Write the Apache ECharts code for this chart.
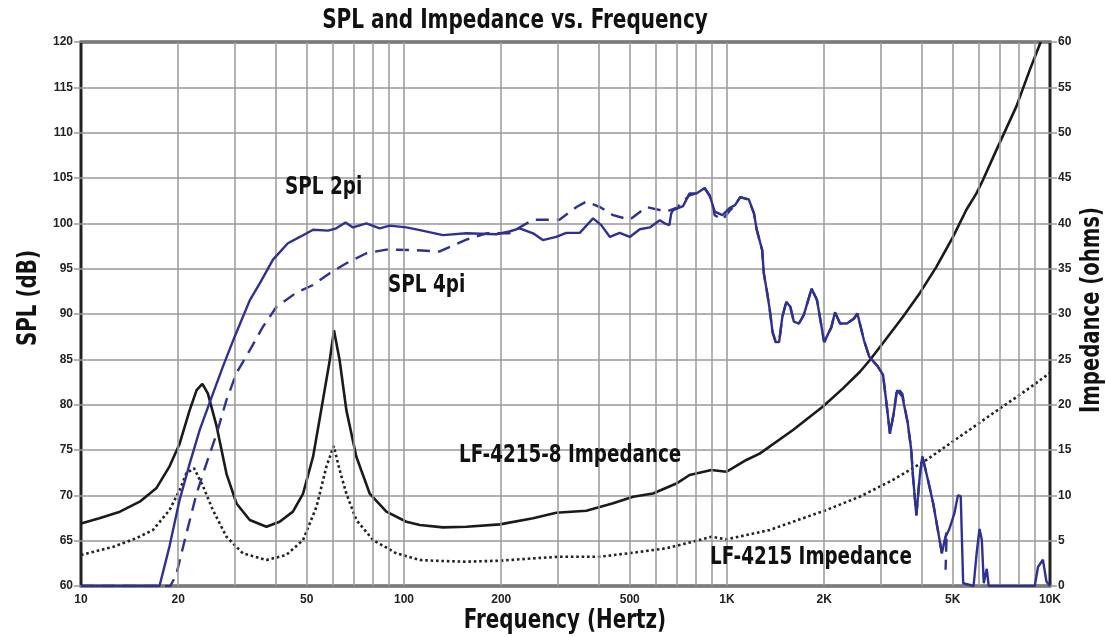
<!DOCTYPE html>
<html><head><meta charset="utf-8">
<script src="https://cdn.jsdelivr.net/npm/echarts@6/dist/echarts.min.js"></script>
<style>html,body{margin:0;padding:0;background:#fff}#c{width:1106px;height:637px}</style>
</head><body><div id="c"></div>
<script>
// ---- tick labels / grid ----
const xTickLabels = [10, 20, 50, 100, 200, 500, 1000, 2000, 5000, 10000];
const gridFreqs = [20,30,40,50,60,70,80,90,100,200,300,400,500,600,700,800,900,1000,2000,3000,4000,5000,6000,7000,8000,9000];

// ---- SPL 2pi (solid blue, dB) ----
const spl2piFreq = [10,17.5,18.8,20.2,21.7,23.3,25.0,27.5,29.9,33.3,35.8,39.3,43.7,47.6,52.3,58.2,61.7,65.9,69.5,76.5,84.1,90.3,101.7,112,132,156,193,212,228,251,269,296,318,350,385,408,434,465,500,537,577,619,641,663,672,681,731,766,804,853,884,916,968,1020,1059,1099,1168,1212,1236,1285,1300,1332,1357,1384,1415,1450,1484,1526,1570,1611,1670,1729,1828,1899,1999,2105,2159,2239,2352,2473,2534,2655,2756,2931,3041,3118,3195,3280,3363,3490,3628,3719,3766,3857,3950,4025,4190,4349,4514,4627,4748,4869,5058,5186,5292,5385,5800,5927,6050,6150,6237,6370,6462,8969,9180,9507,9750,10000];
const spl2piDb   = [60,60,64.4,69.5,73.5,77.2,80.2,84.2,87.5,91.5,93.4,96.0,97.8,98.5,99.3,99.2,99.45,100.1,99.55,100.0,99.45,99.75,99.55,99.25,98.7,98.9,98.8,99.1,99.45,98.9,98.15,98.5,98.95,98.95,100.55,99.8,98.5,98.95,98.5,99.35,99.55,100.35,100.0,99.8,101.1,101.45,101.9,103.3,103.3,103.9,103.1,101.3,100.9,101.7,102.0,102.9,102.65,101.1,99.3,97.05,94.5,92.3,90.4,88.0,86.9,86.9,89.7,91.35,90.8,89.15,88.95,89.9,92.8,91.55,86.9,88.55,90.2,88.95,88.95,89.5,90.05,87.1,85.3,84.2,83.3,80.1,76.8,79.0,81.6,80.9,77.95,75.0,72.05,67.8,72.05,74.3,71.7,69.1,65.8,63.6,65.4,66.2,68.0,70.0,69.9,60.3,60,63.6,66.3,65.1,60.3,61.9,60,60,62.1,62.9,60.5,60];

// ---- SPL 4pi (dashed blue, dB) ----
const spl4piFreq = [10,18.9,19.7,21.2,22.8,24.45,26.3,28.2,30.3,33.3,36.6,40.3,46.4,52.3,58.9,66.3,76.5,88.2,107,129,156,180,212,251,303,342,367,404,444,500,563,649,697,766,804,853,884,916,968,1020,1059,1099,1168,1212,1236,1285,1300,1332,1357,1384,1415,1450,1484,1526,1570,1611,1670,1729,1828,1899,1999,2105,2159,2239,2352,2473,2534,2655,2756,2931,3041,3118,3195,3280,3363,3490,3628,3719,3766,3857,3950,4025,4190,4349,4514,4627,4790,4750];
const spl4piDb   = [60,60,61.2,65.8,70.2,73.5,76.8,80.5,83.5,86.0,88.6,90.8,92.35,93.2,94.5,95.6,96.7,97.1,97.05,96.9,98.2,98.9,98.9,100.4,100.4,101.8,102.4,101.8,100.9,100.4,101.8,101.3,101.7,103.1,103.3,103.85,103.0,100.9,100.4,101.4,102.0,102.9,102.6,101.1,99.3,97.05,94.5,92.3,90.4,88.0,86.9,86.9,89.7,91.35,90.8,89.15,88.95,89.9,92.8,91.55,86.9,88.55,90.2,88.95,88.95,89.5,90.05,87.1,85.3,84.2,83.3,80.1,76.8,79.0,81.9,81.2,77.95,75.0,72.05,67.8,72.05,74.3,71.7,69.1,65.8,63.6,66.0,61.8];

// ---- LF-4215-8 Impedance (solid black, ohms) ----
const imp8Freq = [10,11.4,13.2,15.2,17.1,18.8,20.2,21.7,22.8,23.75,24.7,26.3,28.2,30.3,33.3,37.5,41.2,45.3,48.7,52.3,56.1,58.9,60.7,63.2,66.3,71.2,78.3,88.2,101.7,112,132,156,198,251,296,367,444,512,590,697,766,895,995,1148,1262,1601,1982,2286,2576,2766,3041,3506,3951,4449,5009,5510,5918,6204,6827,7870,8653,9359];
const imp8Ohm  = [6.9,7.47,8.2,9.3,10.77,13.2,15.7,19.4,21.6,22.3,21.25,17.6,12.4,9.1,7.28,6.54,7.09,8.2,10.2,14.26,20.5,24.9,28.2,24.9,19.4,14.26,10.2,8.2,7.09,6.73,6.47,6.54,6.8,7.47,8.08,8.3,9.12,9.85,10.2,11.3,12.24,12.8,12.6,13.9,14.6,17.2,19.8,21.8,23.6,24.9,26.8,29.7,32.3,35.2,38.5,41.5,43.3,44.8,48.1,52.9,56.9,60];

// ---- LF-4215 Impedance (dotted black, ohms) ----
const impFreq = [10,12.6,14.8,16.7,18.8,20.2,21.2,22.4,23.9,25.6,28.2,31.7,37.5,43.2,48.7,53.6,57.5,60.6,63.2,66.3,71.2,80.2,94.7,112,123,156,198,251,303,404,512,649,785,895,995,1148,1356,1601,2031,2576,3265,4143,5254,6662,8453,10000];
const impOhm  = [3.42,4.33,5.26,6.18,8.38,10.6,12.43,12.98,10.95,8.38,5.44,3.6,2.87,3.42,5.07,8.75,13.16,15.44,12.8,10.2,7.28,5.07,3.6,2.87,2.79,2.68,2.79,3.05,3.23,3.23,3.67,4.16,4.89,5.44,5.15,5.62,6.18,7.09,8.38,9.85,11.7,13.9,16.47,19.05,21.6,23.5];

const BIG = '"DejaVu Sans Condensed","Liberation Sans Narrow","Liberation Sans",sans-serif';
const TICKFONT = '"Liberation Sans",Arial,sans-serif';
const BLUE = '#2E3192';
const pairs = (f, v) => f.map((x, i) => [x, v[i]]);
function label(text, x, y, size, sx, align, rot) {
  return {
    type: 'text', x: x, y: y, scaleX: sx, scaleY: 1, rotation: rot || 0, silent: true, z: 10,
    style: {text: text, font: 'bold ' + size + 'px ' + BIG, fill: '#111',
            align: align, verticalAlign: 'middle', textAlign: align, textVerticalAlign: 'middle'}
  };
}

const chart = echarts.init(document.getElementById('c'), null, {renderer: 'canvas'});
chart.setOption({
  animation: false,
  backgroundColor: '#fff',
  grid: {left: 81, right: 56, top: 42, bottom: 51, show: true, borderColor: '#222', borderWidth: 3, backgroundColor: 'transparent'},
  xAxis: {
    type: 'log', logBase: 10, min: 10, max: 10000,
    axisLine: {show: false}, axisTick: {show: false}, splitLine: {show: false},
    axisLabel: {
      customValues: xTickLabels, margin: 8, color: '#222', fontFamily: TICKFONT, fontSize: 12, fontWeight: 'bold',
      formatter: v => v >= 1000 ? (v / 1000) + 'K' : String(v)
    }
  },
  yAxis: [{
    type: 'value', min: 60, max: 120, interval: 5, position: 'left',
    axisLine: {show: false},
    axisTick: {show: true, inside: false, length: 7, lineStyle: {color: '#999', width: 1.5}},
    splitLine: {show: true, lineStyle: {color: '#999', width: 1.5}},
    axisLabel: {margin: 8, color: '#222', fontFamily: TICKFONT, fontSize: 12, fontWeight: 'bold'}
  }, {
    type: 'value', min: 0, max: 60, interval: 5, position: 'right',
    axisLine: {show: false},
    axisTick: {show: true, inside: false, length: 7, lineStyle: {color: '#999', width: 1.5}},
    splitLine: {show: false},
    axisLabel: {margin: 8, color: '#222', fontFamily: TICKFONT, fontSize: 12, fontWeight: 'bold'}
  }],
  graphic: [
    label('SPL and Impedance vs. Frequency', 515, 21, 26, 0.857, 'center'),
    label('Frequency (Hertz)', 565, 621, 26, 0.85, 'center'),
    label('SPL (dB)', 29, 298, 26, 0.85, 'center', Math.PI / 2),
    label('Impedance (ohms)', 1092, 310, 26, 0.84, 'center', Math.PI / 2),
    label('SPL 2pi', 285, 187, 25, 0.82, 'left'),
    label('SPL 4pi', 388, 285, 25, 0.82, 'left'),
    label('LF-4215-8 Impedance', 459, 455, 25, 0.815, 'left'),
    label('LF-4215 Impedance', 710, 557, 25, 0.815, 'left')
  ],
  series: [
    {
      name: 'grid', type: 'line', data: [], z: 0, silent: true,
      markLine: {
        silent: true, symbol: ['none', 'none'], animation: false, label: {show: false},
        lineStyle: {color: '#999', width: 1.5, type: 'solid'},
        emphasis: {disabled: true},
        data: gridFreqs.map(f => ({xAxis: f}))
      }
    },
    {name: 'LF-4215 Impedance', type: 'line', yAxisIndex: 1, data: pairs(impFreq, impOhm), showSymbol: false, z: 3,
     lineStyle: {color: '#222', width: 2.6, type: [2.6, 2.8]}},
    {name: 'LF-4215-8 Impedance', type: 'line', yAxisIndex: 1, data: pairs(imp8Freq, imp8Ohm), showSymbol: false, z: 3,
     lineStyle: {color: '#1a1a1a', width: 2.6}},
    {name: 'SPL 4pi', type: 'line', yAxisIndex: 0, data: pairs(spl4piFreq, spl4piDb), showSymbol: false, z: 4,
     lineStyle: {color: BLUE, width: 2.4, type: [13, 8]}},
    {name: 'SPL 2pi', type: 'line', yAxisIndex: 0, data: pairs(spl2piFreq, spl2piDb), showSymbol: false, z: 5,
     lineStyle: {color: BLUE, width: 2.4}}
  ]
});
</script>
</body></html>
